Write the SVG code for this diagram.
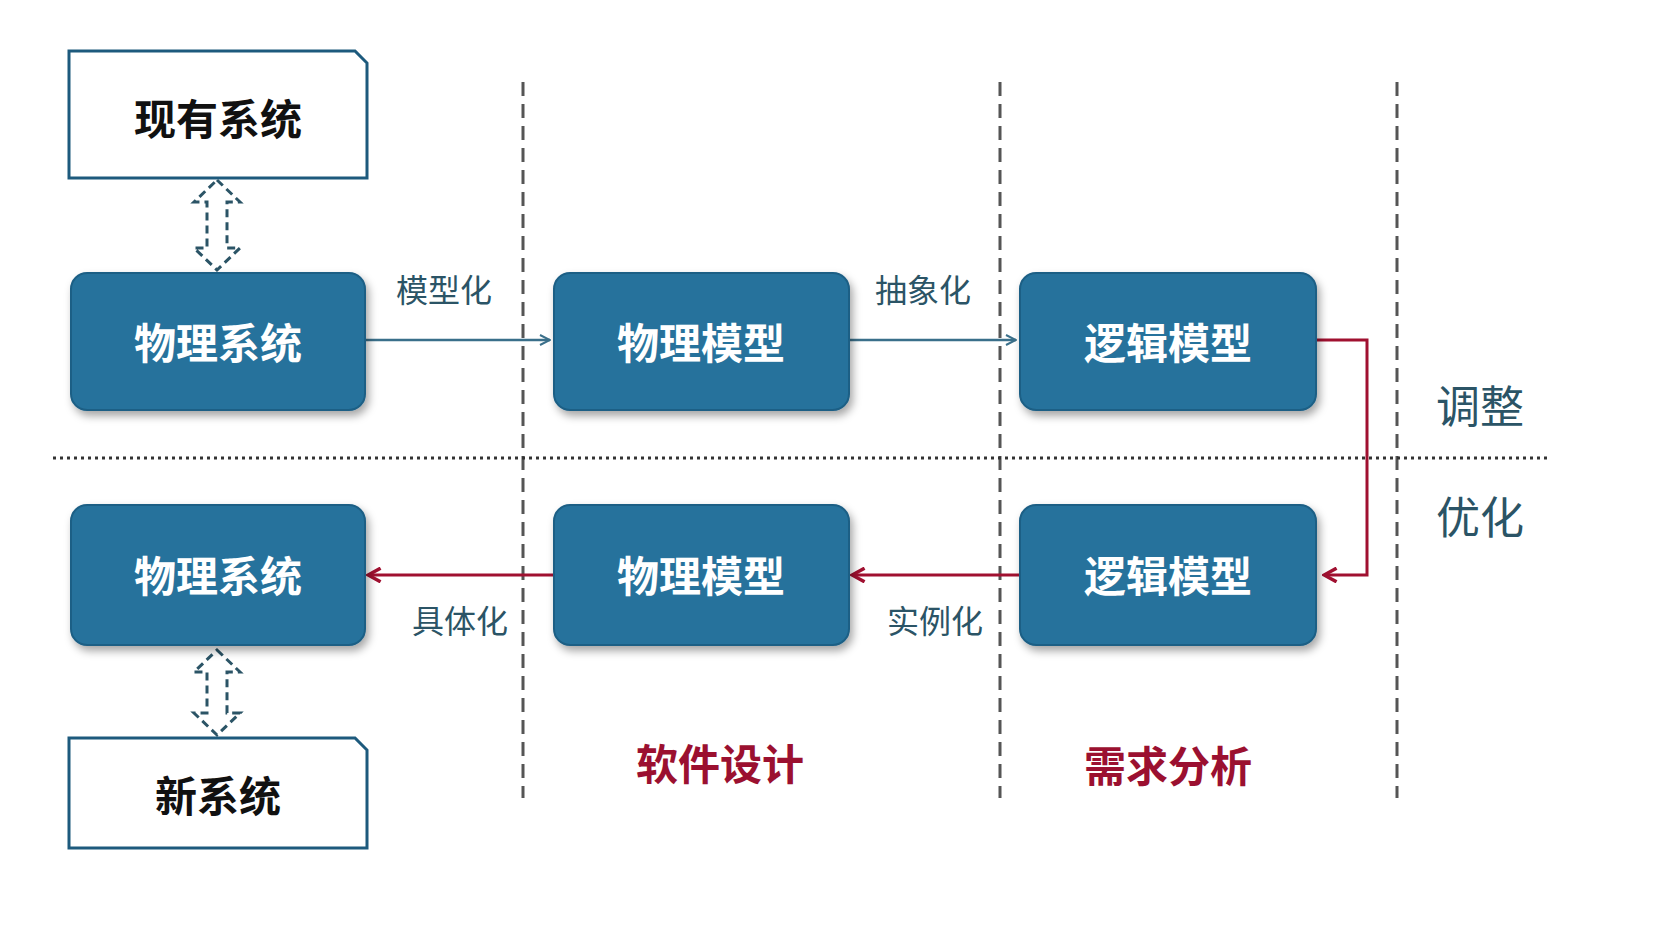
<svg xmlns="http://www.w3.org/2000/svg" width="1658" height="932" viewBox="0 0 1658 932">
<style>
.n{fill:#25729c;stroke:#1d5f85;stroke-width:2}
.w{fill:#fff;stroke:#1d5a7d;stroke-width:3}
.t{font-family:"Noto Sans CJK SC",sans-serif;font-weight:bold;font-size:42px;text-anchor:middle;dominant-baseline:central}
.wt{fill:#fff}
.bt{fill:#111}
.l{font-family:"Noto Sans CJK SC",sans-serif;font-size:32px;fill:#2b5466;text-anchor:middle;dominant-baseline:central}
.r{font-family:"Noto Sans CJK SC",sans-serif;font-weight:bold;font-size:42px;fill:#9b1030;text-anchor:middle;dominant-baseline:central}
.s{font-family:"Noto Sans CJK SC",sans-serif;font-size:44px;fill:#2b5466;text-anchor:middle;dominant-baseline:central}
.da{fill:none;stroke:#2b5466;stroke-width:3;stroke-dasharray:8 5}
</style>
<defs>
<filter id="sh" x="-10%" y="-10%" width="125%" height="130%"><feDropShadow dx="3" dy="5" stdDeviation="4" flood-color="#000" flood-opacity="0.35"/></filter>
<marker id="ab" viewBox="0 0 12 12" refX="11" refY="6" markerWidth="12" markerHeight="12" markerUnits="userSpaceOnUse" orient="auto"><path d="M1,1 L11,6 L1,11" fill="none" stroke="#3a6f8a" stroke-width="2"/></marker>
<marker id="ar" viewBox="0 0 14 14" refX="12" refY="7" markerWidth="16" markerHeight="16" markerUnits="userSpaceOnUse" orient="auto"><path d="M1,1 L12,7 L1,13" fill="none" stroke="#a01030" stroke-width="3"/></marker>
</defs>
<rect width="1658" height="932" fill="#fff"/>
<g id="guides" stroke="#555" stroke-width="3" stroke-dasharray="14 8">
<line x1="523" y1="82" x2="523" y2="798"/>
<line x1="1000" y1="82" x2="1000" y2="798"/>
<line x1="1397" y1="82" x2="1397" y2="798"/>
<line x1="53" y1="458" x2="1549" y2="458" stroke-dasharray="3 4" stroke="#333"/>
</g>
<g id="connectors">
<line x1="366" y1="340" x2="550" y2="340" stroke="#3a6f8a" stroke-width="2.5" marker-end="url(#ab)"/>
<line x1="850" y1="340" x2="1016" y2="340" stroke="#3a6f8a" stroke-width="2.5" marker-end="url(#ab)"/>
<polyline points="1316,340 1367,340 1367,575 1324,575" fill="none" stroke="#a01030" stroke-width="3" marker-end="url(#ar)"/>
<line x1="1020" y1="575" x2="852" y2="575" stroke="#a01030" stroke-width="3" marker-end="url(#ar)"/>
<line x1="554" y1="575" x2="368" y2="575" stroke="#a01030" stroke-width="3" marker-end="url(#ar)"/>
<path class="da" d="M217,180 L240,202 L227,202 L227,248 L240,248 L217,270 L194,248 L207,248 L207,202 L194,202 Z"/>
<path class="da" d="M217,650 L240,672 L227,672 L227,713 L240,713 L217,735 L194,713 L207,713 L207,672 L194,672 Z"/>
<text class="l" x="444" y="288">模型化</text>
<text class="l" x="923" y="288">抽象化</text>
<text class="l" x="460" y="619">具体化</text>
<text class="l" x="935" y="619">实例化</text>
</g>
<g id="n1"><path class="w" d="M69,51 L355,51 L367,63 L367,178 L69,178 Z"/><text class="t bt" x="218" y="116">现有系统</text></g>
<g id="n2"><rect class="n" filter="url(#sh)" x="71" y="273" width="294" height="137" rx="16"/><text class="t wt" x="218" y="340">物理系统</text></g>
<g id="n3"><rect class="n" filter="url(#sh)" x="554" y="273" width="295" height="137" rx="16"/><text class="t wt" x="701" y="340">物理模型</text></g>
<g id="n4"><rect class="n" filter="url(#sh)" x="1020" y="273" width="296" height="137" rx="16"/><text class="t wt" x="1168" y="340">逻辑模型</text></g>
<g id="n5"><rect class="n" filter="url(#sh)" x="71" y="505" width="294" height="140" rx="16"/><text class="t wt" x="218" y="573">物理系统</text></g>
<g id="n6"><rect class="n" filter="url(#sh)" x="554" y="505" width="295" height="140" rx="16"/><text class="t wt" x="701" y="573">物理模型</text></g>
<g id="n7"><rect class="n" filter="url(#sh)" x="1020" y="505" width="296" height="140" rx="16"/><text class="t wt" x="1168" y="573">逻辑模型</text></g>
<g id="n8"><path class="w" d="M69,738 L355,738 L367,750 L367,848 L69,848 Z"/><text class="t bt" x="218" y="793">新系统</text></g>
<g id="labels">
<text class="s" x="1480" y="404">调整</text>
<text class="s" x="1480" y="515">优化</text>
<text class="r" x="720" y="761">软件设计</text>
<text class="r" x="1168" y="763">需求分析</text>
</g>
</svg>
